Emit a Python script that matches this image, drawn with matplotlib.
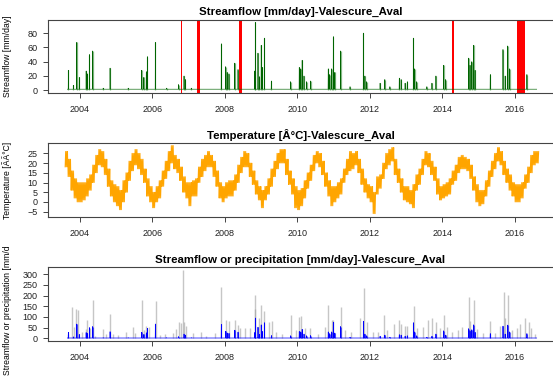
import numpy as np
import pandas as pd
import matplotlib
matplotlib.use("Agg")
import matplotlib.pyplot as plt
from matplotlib.transforms import Bbox, TransformedBbox

plt.rcParams['font.family'] = ['Liberation Sans', 'DejaVu Sans']

station = "Valescure_Aval"
t_start, t_end = 2003.65, 2016.60

# streamflow peaks (decimal year, mm/day)
q_t = [2003.68, 2003.82, 2003.91, 2003.98, 2004.17, 2004.20, 2004.26, 2004.35, 2004.64, 2004.83,
       2005.33, 2005.70, 2005.76, 2005.83, 2005.86, 2006.08, 2006.39, 2006.72, 2006.87, 2006.91,
       2007.07, 2007.90, 2008.02, 2008.06, 2008.11, 2008.27, 2008.36, 2008.82, 2008.84, 2008.91,
       2008.95, 2009.00, 2009.03, 2009.09, 2009.28, 2009.81, 2010.05, 2010.09, 2010.13, 2010.18,
       2010.25, 2010.36, 2010.85, 2010.89, 2010.94, 2010.99, 2011.03, 2011.19, 2011.45, 2011.82,
       2011.86, 2011.91, 2012.28, 2012.41, 2012.55, 2012.81, 2012.86, 2012.97, 2013.03, 2013.20,
       2013.23, 2013.29, 2013.57, 2013.71, 2013.82, 2014.03, 2014.09, 2014.72, 2014.76, 2014.81,
       2014.86, 2014.90, 2015.32, 2015.67, 2015.73, 2015.80, 2015.85, 2016.33]
q_v = [28, 7, 67, 18, 27, 23, 50, 55, 3, 31,
       3, 28, 18, 26, 47, 67, 3, 8, 20, 15,
       3, 65, 33, 25, 23, 38, 29, 27, 95, 52,
       19, 63, 32, 73, 13, 12, 32, 30, 42, 20,
       12, 13, 30, 22, 30, 75, 25, 55, 5, 80,
       20, 12, 10, 15, 5, 17, 15, 10, 12, 73,
       30, 12, 5, 10, 20, 35, 15, 45, 35, 40,
       63, 28, 22, 57, 20, 62, 30, 22]
q_base = 1.5

# precipitation peaks (decimal year, mm/day)
p_t = [2003.68, 2003.77, 2003.83, 2003.89, 2003.95, 2004.05, 2004.17, 2004.20, 2004.28, 2004.35,
       2004.41, 2004.64, 2004.72, 2004.83, 2004.92, 2005.06, 2005.28, 2005.47, 2005.51, 2005.70,
       2005.76, 2005.83, 2005.90, 2006.09, 2006.20, 2006.34, 2006.57, 2006.66, 2006.72, 2006.78,
       2006.83, 2006.87, 2006.92, 2007.12, 2007.35, 2007.49, 2007.72, 2007.88, 2008.02, 2008.11,
       2008.27, 2008.36, 2008.42, 2008.54, 2008.70, 2008.82, 2008.84, 2008.94, 2009.00, 2009.09,
       2009.21, 2009.30, 2009.41, 2009.56, 2009.81, 2009.97, 2010.05, 2010.11, 2010.20, 2010.34,
       2010.57, 2010.76, 2010.85, 2010.94, 2010.99, 2011.19, 2011.31, 2011.49, 2011.72, 2011.84,
       2011.91, 2012.09, 2012.23, 2012.40, 2012.48, 2012.66, 2012.81, 2012.85, 2012.97, 2013.03,
       2013.22, 2013.29, 2013.47, 2013.61, 2013.72, 2013.82, 2013.94, 2014.03, 2014.12, 2014.26,
       2014.44, 2014.53, 2014.72, 2014.76, 2014.86, 2014.95, 2015.13, 2015.32, 2015.46, 2015.59,
       2015.69, 2015.73, 2015.82, 2015.92, 2016.06, 2016.15, 2016.29, 2016.38, 2016.44, 2016.56]
p_v = [20, 148, 55, 135, 132, 30, 45, 88, 50, 180,
       10, 45, 20, 115, 22, 15, 30, 55, 25, 178,
       40, 60, 55, 175, 15, 20, 25, 45, 78, 70,
       322, 75, 58, 25, 28, 12, 25, 240, 88, 80,
       88, 62, 50, 48, 48, 135, 205, 95, 155, 130,
       75, 80, 28, 20, 110, 40, 98, 105, 50, 50,
       20, 55, 155, 85, 85, 145, 40, 30, 95, 235,
       75, 30, 30, 110, 40, 65, 85, 65, 60, 60,
       150, 50, 55, 85, 95, 75, 50, 110, 55, 30,
       40, 55, 195, 80, 180, 45, 25, 80, 25, 60,
       215, 95, 205, 40, 50, 65, 95, 75, 50, 20]

# monthly low / high of daily temperature (Aug 2003 .. Aug 2016)
t_low = [18, 13, 6, 2, 0,
         0, 1, 3, 6, 10, 15, 19, 18, 14, 8, 3, 0,
         -2, -4, 0, 5, 11, 16, 19, 17, 14, 10, 3, 0,
         -3, 0, 2, 8, 12, 16, 20, 17, 15, 11, 5, 2,
         -2, 3, 3, 10, 13, 16, 18, 18, 13, 8, 2, 0,
         2, 3, 3, 6, 10, 15, 18, 18, 13, 9, 4, 1,
         -3, 1, 4, 8, 13, 17, 20, 20, 14, 9, 4, -3,
         -4, -2, 2, 7, 11, 16, 20, 18, 14, 8, 3, -2,
         0, 2, 4, 10, 14, 16, 17, 19, 15, 9, 5, 2,
         0, -6, 4, 7, 12, 17, 19, 21, 14, 10, 5, 1,
         0, -1, -3, 6, 9, 14, 19, 18, 14, 11, 4, 1,
         2, 3, 4, 9, 11, 15, 17, 17, 16, 12, 6, 0,
         -2, -1, 3, 8, 13, 17, 21, 19, 14, 10, 6, 3,
         0, 0, 2, 7, 10, 15, 19, 20]
t_high = [26, 22, 16, 12, 10,
          10, 10, 12, 14, 19, 24, 27, 26, 22, 17, 11, 9,
          8, 6, 11, 15, 21, 25, 27, 25, 22, 17, 12, 8,
          5, 8, 11, 16, 21, 26, 29, 24, 22, 18, 13, 10,
          10, 11, 12, 18, 22, 24, 26, 24, 21, 16, 10, 8,
          10, 11, 11, 14, 19, 23, 26, 25, 20, 16, 11, 8,
          6, 8, 12, 17, 21, 25, 27, 27, 22, 16, 12, 8,
          6, 7, 11, 15, 19, 24, 26, 25, 21, 15, 11, 8,
          8, 10, 12, 17, 22, 26, 25, 26, 22, 17, 12, 9,
          8, 5, 13, 14, 20, 25, 27, 28, 22, 17, 12, 8,
          8, 6, 9, 14, 17, 22, 26, 25, 21, 18, 12, 8,
          9, 10, 12, 16, 19, 23, 24, 23, 22, 19, 13, 9,
          6, 6, 11, 16, 21, 25, 28, 26, 21, 17, 14, 10,
          9, 9, 10, 14, 18, 24, 26, 26]

# periods flagged in red (missing streamflow)
gaps = [(2006.80, 2006.81), (2007.23, 2007.30), (2008.39, 2008.46),
        (2014.26, 2014.31), (2016.05, 2016.28)]


def spike_line(t, v, base):
    xs, ys = [t_start], [base]
    for ti, vi in sorted(zip(t, v)):
        xs += [ti - 0.004, ti, ti + 0.005]
        ys += [base, vi, base]
    xs.append(t_end)
    ys.append(base)
    return xs, ys


months = pd.date_range("2003-08-01", periods=len(t_low), freq="MS")
m_dec = months.year + (months.month - 1) / 12.0
temp_x, temp_y = [], []
for m, lo, hi in zip(m_dec, t_low, t_high):
    for k in range(3):
        temp_x += [m + k / 36 + 0.004, m + k / 36 + 0.018]
        temp_y += [lo, hi]

fig = plt.figure(figsize=(5.53, 3.76), dpi=100)
ax1 = fig.add_axes([0.0868, 0.7527, 0.9132, 0.1954])
ax2 = fig.add_axes([0.0868, 0.4229, 0.9132, 0.1968])
ax3 = fig.add_axes([0.0868, 0.0931, 0.9132, 0.1968])

qx, qy = spike_line(q_t, q_v, q_base)
ax1.vlines(q_t, 0, q_v, color='#3c8f3c', alpha=0.6, lw=0.9)
ax1.plot(qx, qy, color='darkgreen', lw=0.45)
for a, b in gaps:
    ax1.axvspan(a, b, color='red', lw=0)
ax1.set_ylim(-3.8, 99)
ax1.set_yticks([0, 20, 40, 60, 80])
ax1.set_title("Streamflow [mm/day]-" + station, fontsize=8.2, fontweight='bold', pad=3)
ax1.set_ylabel("Streamflow [mm/day]", fontsize=6.2)

ax2.plot(temp_x, temp_y, color='orange', lw=0.6)
ax2.set_ylim(-7.7, 30.3)
ax2.set_yticks([-5, 0, 5, 10, 15, 20, 25])
ax2.set_title("Temperature [Â°C]-" + station, fontsize=8.2, fontweight='bold', pad=3)
ax2.set_ylabel("Temperature [ÃÂ°C]", fontsize=6.2)

ax3.vlines(p_t, 0, p_v, color='#a0a0a0', alpha=0.6, lw=1.0)
ax3.vlines(q_t, 0, q_v, color='blue', alpha=0.6, lw=0.8)
ax3.plot(qx, qy, color='blue', lw=0.5)
ax3.set_ylim(-12.5, 334)
ax3.set_yticks([0, 50, 100, 150, 200, 250, 300])
ax3.set_title("Streamflow or precipitation [mm/day]-" + station, fontsize=8.2,
              fontweight='bold', pad=3)
ax3.set_ylabel("Streamflow or precipitation [mm/day]", fontsize=6.2)

for ax in (ax1, ax2, ax3):
    ax.set_xlim(2003.117, 2017.05)
    ax.set_xticks([2004, 2006, 2008, 2010, 2012, 2014, 2016])
    ax.set_xticklabels(['2004', '2006', '2008', '2010', '2012', '2014', '2016'])
    ax.spines['right'].set_visible(False)
    for s in ('left', 'top', 'bottom'):
        ax.spines[s].set_color('#444444')
        ax.spines[s].set_linewidth(0.8)
    ax.tick_params(labelsize=6.5, length=3.5, width=0.7, color='#444444',
                   labelcolor='#222222', pad=4)
    ax.tick_params(axis='x', pad=5)
    ax.yaxis.set_label_coords(-0.072, 0.5)

# the long label of the bottom panel is cut at the top of its region
clip = TransformedBbox(Bbox([[0, 0], [1, 1 - 246 / 376]]), fig.transFigure)
ax3.yaxis.label.set_clip_box(clip)
ax3.yaxis.label.set_clip_on(True)

fig.savefig("out.png", dpi=100)
